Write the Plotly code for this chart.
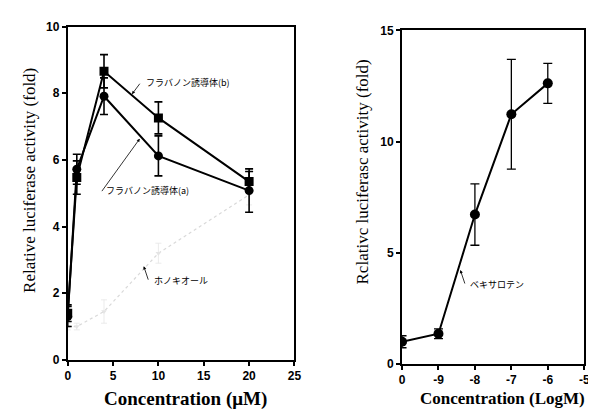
import plotly.graph_objects as go

# ---- data: left panel (Concentration, µM) ----
conc_um = [0, 1, 4, 10, 20]
flav_b = [1.40, 5.47, 8.66, 7.26, 5.35]
flav_b_err = [0.25, 0.50, 0.50, 0.48, 0.30]
flav_a = [1.30, 5.72, 7.91, 6.12, 5.08]
flav_a_err = [0.30, 0.45, 0.55, 0.60, 0.65]
honokiol = [1.00, 1.00, 1.45, 3.20, 4.95]
honokiol_err = [0.10, 0.10, 0.35, 0.30, 0.30]

# ---- data: right panel (Concentration, LogM) ----
log_ticks = ["0", "-9", "-8", "-7", "-6", "-5"]
log_conc = ["0", "-9", "-8", "-7", "-6"]
bexarotene = [1.00, 1.36, 6.72, 11.23, 12.62]
bexarotene_err = [0.27, 0.22, 1.38, 2.47, 0.90]

fig = go.Figure()

def err(vals, w=1.6, cap=4, color="black"):
    return dict(type="data", array=vals, visible=True, thickness=w, width=cap, color=color)

fig.add_trace(go.Scatter(x=conc_um, y=honokiol, mode="lines+markers",
                         line=dict(color="#d9d9d9", width=1.2, dash="dot"),
                         marker=dict(symbol="triangle-down", size=5, color="#e4e4e4"),
                         error_y=err(honokiol_err, 0.8, 3, "#e6e6e6"),
                         xaxis="x", yaxis="y", showlegend=False))
fig.add_trace(go.Scatter(x=conc_um, y=flav_a, mode="lines+markers",
                         line=dict(color="black", width=2),
                         marker=dict(symbol="circle", size=9, color="black"),
                         error_y=err(flav_a_err),
                         xaxis="x", yaxis="y", showlegend=False))
fig.add_trace(go.Scatter(x=conc_um, y=flav_b, mode="lines+markers",
                         line=dict(color="black", width=2),
                         marker=dict(symbol="square", size=9, color="black"),
                         error_y=err(flav_b_err),
                         xaxis="x", yaxis="y", showlegend=False))
fig.add_trace(go.Scatter(x=log_conc, y=bexarotene, mode="lines+markers",
                         line=dict(color="black", width=2),
                         marker=dict(symbol="circle", size=10, color="black"),
                         error_y=err(bexarotene_err, 1.3, 4.5),
                         xaxis="x2", yaxis="y2", showlegend=False))

tickfont = dict(family="Liberation Sans", size=12, color="black", weight="bold")
axis_common = dict(showline=True, linecolor="black", linewidth=2, mirror=True,
                   ticks="outside", ticklen=4, tickwidth=1.5, tickcolor="black",
                   showgrid=False, zeroline=False, tickfont=tickfont)

fig.update_layout(
    width=596, height=412, plot_bgcolor="white", paper_bgcolor="white",
    margin=dict(l=0, r=0, t=0, b=0),
    xaxis=dict(domain=[0.0968, 0.4837], range=[0, 25], tickvals=[0, 5, 10, 15, 20, 25], anchor="y", **axis_common),
    yaxis=dict(domain=[0.1335, 0.9709], range=[0, 10], tickvals=[0, 2, 4, 6, 8, 10], anchor="x", **axis_common),
    xaxis2=dict(domain=[0.6673, 0.9782], type="category", categoryorder="array",
                categoryarray=log_ticks, range=[0, 5], anchor="y2", **axis_common),
    yaxis2=dict(domain=[0.1231, 0.9612], range=[0, 15], tickvals=[0, 5, 10, 15], anchor="x2", **axis_common),
)

serif = "Liberation Serif, Times New Roman, serif"
annots = [
    dict(text="Relative luciferase activity (fold)", x=18, y=171, textangle=-90,
         font=dict(family=serif, size=17, color="black")),
    dict(text="Rclativc luciferasc activity (fold)", x=357, y=163, textangle=-90,
         font=dict(family=serif, size=17, color="black")),
    dict(text="Concentration (μM)", x=177, y=397,
         font=dict(family=serif, size=19, color="black", weight="bold")),
    dict(text="Concentration (LogM)", x=500, y=397,
         font=dict(family=serif, size=17, color="black", weight="bold")),
]
for a in annots:
    fig.add_annotation(xref="paper", yref="paper", x=a["x"] / 596, y=1 - a["y"] / 412,
                       text=a["text"], showarrow=False, textangle=a.get("textangle", 0),
                       font=a["font"], xanchor="center", yanchor="middle")

jp = dict(family="Noto Sans CJK JP", size=9, color="black")

def label(text, tx, ty, ax_, ay_):
    # text left-middle (tx, ty) in pixels; arrow head at (ax_, ay_) in pixels
    fig.add_annotation(xref="paper", yref="paper", x=ax_ / 596, y=1 - ay_ / 412,
                       text="", showarrow=True, arrowhead=2, arrowsize=0.8, arrowwidth=0.8,
                       arrowcolor="black", axref="pixel", ayref="pixel",
                       ax=(tx - 8) - ax_, ay=ty - ay_)
    fig.add_annotation(xref="paper", yref="paper", x=(tx - 5) / 596, y=1 - ty / 412,
                       text=text, showarrow=False, font=jp, xanchor="left", yanchor="middle")

label("フラバノン誘導体(b)", 140, 70, 123, 82)
label("フラバノン誘導体(a)", 100, 182, 131, 128)
label("ホノキオール", 148, 275, 135, 260)
label("ベキサロテン", 470, 279, 457, 264)

fig.write_html("out.html")
